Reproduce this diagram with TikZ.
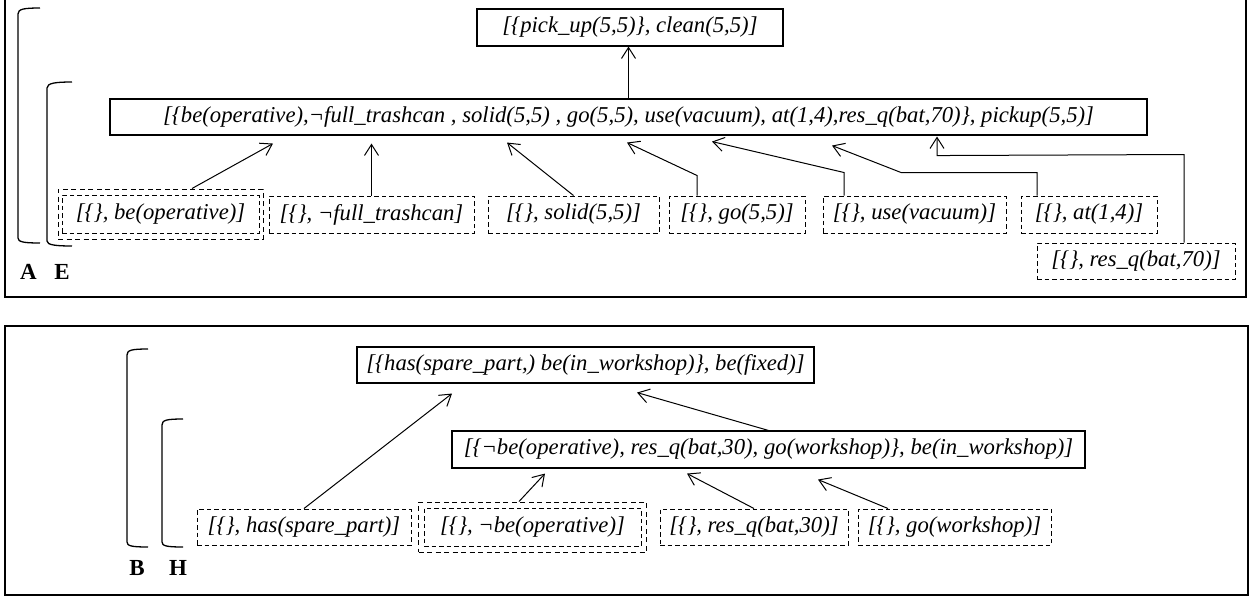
\documentclass[tikz,border=0pt]{standalone}
\usepackage{fontspec}
\setmainfont{Liberation Serif}
\usetikzlibrary{arrows.meta,calc}
\tikzset{
  solidbox/.style={draw, line width=1.1pt, inner sep=0pt, font=\fontsize{22.7}{26}\selectfont\itshape},
  dashbox/.style={solidbox, line width=1pt, dash pattern=on 4.5pt off 3pt},
  outerbox/.style={draw, line width=1pt, inner sep=0pt, dash pattern=on 5pt off 3.5pt},
  conn/.style={line width=1pt, -{Straight Barb[length=11pt,width=14pt,line width=1pt]}},
  bracketline/.style={line width=1.3pt},
  lbl/.style={font=\fontsize{23}{26}\selectfont\bfseries, inner sep=0pt},
  frame/.style={line width=1.8pt}
}
\begin{document}
\begin{tikzpicture}[x=1pt,y=-1pt]
\useasboundingbox (0,0) rectangle (1253,598);
% frames
\draw[frame] (5,-3) rectangle (1246,297);
\draw[frame] (5,326) rectangle (1248,595);
% brackets panel 1
\draw[bracketline] (40,8) .. controls (24,8) and (18,9) .. (18,14) -- (18,238) .. controls (18,242) and (24,243) .. (40,243);
\draw[bracketline] (72,82) .. controls (56,82) and (47,83) .. (47,88) -- (47,241) .. controls (47,245) and (56,246) .. (72,246);
\node[lbl] (lA) at (28.5,272) {A};
\node[lbl] (lE) at (62,272) {E};
% brackets panel 2
\draw[bracketline] (148,349) .. controls (132,349) and (127,350) .. (127,355) -- (127,542) .. controls (127,546) and (132,547) .. (148,547);
\draw[bracketline] (183,419) .. controls (167,419) and (162,420) .. (162,425) -- (162,542) .. controls (162,546) and (167,547) .. (183,547);
\node[lbl] (lB) at (137,568) {B};
\node[lbl] (lH) at (178,568) {H};
% panel 1 nodes
\node[solidbox, minimum width=306, minimum height=37] (T) at (630,27.5) {[\{pick\_up(5,5)\}, clean(5,5)]};
\node[solidbox, minimum width=1037, minimum height=36] (M) at (628.5,117) {[\{be(operative),¬full\_trashcan , solid(5,5) , go(5,5), use(vacuum), at(1,4),res\_q(bat,70)\}, pickup(5,5)]};
\node[dashbox, minimum width=197, minimum height=38] (N1) at (160.5,214) {[\{\}, be(operative)]};
\node[outerbox, minimum width=205, minimum height=50] (N1o) at (160.5,214) {};
\node[dashbox, minimum width=205, minimum height=37] (N2) at (371.5,214.5) {[\{\}, ¬full\_trashcan]};
\node[dashbox, minimum width=171, minimum height=37] (N3) at (573.5,214.5) {[\{\}, solid(5,5)]};
\node[dashbox, minimum width=136, minimum height=37] (N4) at (737,214.5) {[\{\}, go(5,5)]};
\node[dashbox, minimum width=183, minimum height=37] (N5) at (914.5,214.5) {[\{\}, use(vacuum)]};
\node[dashbox, minimum width=136, minimum height=37] (N6) at (1089,214.5) {[\{\}, at(1,4)]};
\node[dashbox, minimum width=198, minimum height=36] (N7) at (1136,261) {[\{\}, res\_q(bat,70)]};
% panel 1 connectors
\draw[conn] (M.north) -- (M.north |- T.south);
\draw[conn] ($(N1o.north)+(31.5,0)$) -- ($(M.south)+(-355.5,8)$);
\draw[conn] (N2.north) -- ($(M.south -| N2.north)+(0,8)$);
\draw[conn] (N3.north) -- ($(M.south)+(-121.5,7)$);
\draw[conn] ($(N4.north)+(-40,0)$) -- ($(N4.north)+(-40,-20)$) -- ($(M.south)+(-1.5,7)$);
\draw[conn] ($(N5.north)+(-70.5,0)$) -- ($(N5.north)+(-70.5,-23)$) -- ($(M.south)+(83.5,6)$);
\draw[conn] ($(N6.north)+(-52,0)$) -- ($(N6.north)+(-52,-23)$) -- ($(N6.north)+(-188,-23)$) -- ($(M.south)+(203.5,10)$);
\draw[conn] ($(N7.north)+(48,0)$) -- ($(N7.north)+(48,-88)$) -- ($(M.south)+(308.5,20)$) -- ($(M.south)+(308.5,1)$);
% panel 2 nodes
\node[solidbox, minimum width=457, minimum height=36] (P) at (585.5,365) {[\{has(spare\_part,) be(in\_workshop)\}, be(fixed)]};
\node[solidbox, minimum width=633, minimum height=37] (Q) at (768.5,449.5) {[\{¬be(operative), res\_q(bat,30), go(workshop)\}, be(in\_workshop)]};
\node[dashbox, minimum width=214, minimum height=36] (Q1) at (304,527) {[\{\}, has(spare\_part)]};
\node[dashbox, minimum width=217, minimum height=38] (Q2) at (532.5,527) {[\{\}, ¬be(operative)]};
\node[outerbox, minimum width=228, minimum height=50] (Q2o) at (532.5,527) {};
\node[dashbox, minimum width=188, minimum height=36] (Q3) at (754,527) {[\{\}, res\_q(bat,30)]};
\node[dashbox, minimum width=193, minimum height=36] (Q4) at (954.5,527) {[\{\}, go(workshop)]};
% panel 2 connectors
\draw[conn] (Q1.north) -- ($(P.south)+(-133.5,10)$);
\draw[conn] (Q.north) -- ($(P.south)+(51.5,9)$);
\draw[conn] ($(Q2o.north)+(-13.5,0)$) -- ($(Q.south)+(-223.5,5)$);
\draw[conn] (Q3.north) -- ($(Q.south)+(-81.5,5)$);
\draw[conn] ($(Q4.north)+(-66.5,0)$) -- ($(Q.south)+(49.5,11)$);
\end{tikzpicture}
\end{document}
